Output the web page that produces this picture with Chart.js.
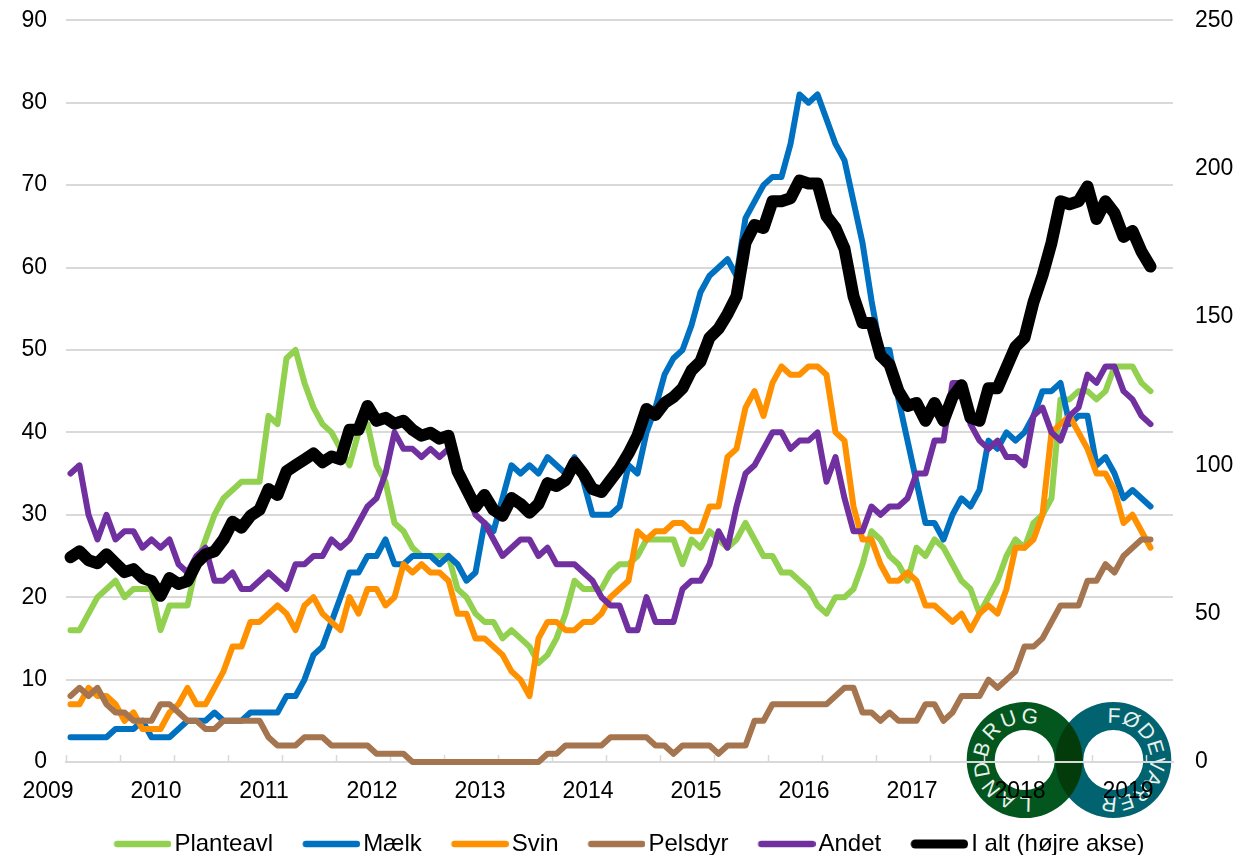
<!DOCTYPE html>
<html>
<head>
<meta charset="utf-8">
<style>
html,body{margin:0;padding:0;background:#fff;overflow:hidden}
#wrap{position:relative;width:1249px;height:855px}
#logo{position:absolute;left:0;top:0;z-index:0}
#c{position:absolute;left:0;top:0;z-index:1}
</style>
<script src="https://cdn.jsdelivr.net/npm/chart.js@4"></script>
</head>
<body>
<div id="wrap">
<svg id="logo" width="1249" height="855" xmlns="http://www.w3.org/2000/svg">
  <defs>
    <path id="ringL" d="M966.7,760a58,58 0 1,0 116,0a58,58 0 1,0 -116,0ZM994.7,760a30,30 0 1,0 60,0a30,30 0 1,0 -60,0Z"/>
    <path id="ringR" d="M1055.3,760a58,58 0 1,0 116,0a58,58 0 1,0 -116,0ZM1083.3,760a30,30 0 1,0 60,0a30,30 0 1,0 -60,0Z"/>
    <clipPath id="clipR"><use href="#ringR" clip-rule="evenodd"/></clipPath>
    <path id="arc" d="M0,-37A37,37 0 1,1 0,37A37,37 0 1,1 0,-37" fill="none"/>
  </defs>
  <use href="#ringL" fill="#04561F" fill-rule="evenodd"/>
  <use href="#ringR" fill="#00636F" fill-rule="evenodd"/>
  <use href="#ringL" fill="#033C0A" fill-rule="evenodd" clip-path="url(#clipR)"/>
  <g font-family="Liberation Sans, Arial, sans-serif" font-size="21" fill="#E8F2EC">
    <g transform="translate(1024.7,760) rotate(170)"><text letter-spacing="2.6"><textPath href="#arc">LANDBRUG</textPath></text></g>
    <g transform="translate(1113.3,760) rotate(-9)"><text letter-spacing="0.5"><textPath href="#arc">FØDEVARER</textPath></text></g>
  </g>
</svg>
<canvas id="c" width="1249" height="855"></canvas>
</div>
<script>
const yearLabels = ['2009','2010','2011','2012','2013','2014','2015','2016','2017','2018','2019'];
const seriesNames = ['Planteavl','Mælk','Svin','Pelsdyr','Andet','I alt (højre akse)'];
const planteavl = [16,16,18,20,21,22,20,21,21,21,16,19,19,19,24,27,30,32,33,34,34,34,42,41,49,50,46,43,41,40,38,36,40,41,36,34,29,28,26,25,25,25,25,21,20,18,17,17,15,16,15,14,12,13,15,18,22,21,21,21,23,24,24,25,27,27,27,27,24,27,26,28,27,26,27,29,27,25,25,23,23,22,21,19,18,20,20,21,24,28,27,25,24,22,26,25,27,26,24,22,21,18,20,22,25,27,26,29,30,32,44,44,45,45,44,45,48,48,48,46,45];
const maelk = [3,3,3,3,3,4,4,4,5,3,3,3,4,5,5,5,6,5,5,5,6,6,6,6,8,8,10,13,14,17,20,23,23,25,25,27,24,24,25,25,25,24,25,24,22,23,29,28,32,36,35,36,35,37,36,35,37,34,30,30,30,31,36,35,40,43,47,49,50,53,57,59,60,61,59,66,68,70,71,71,75,81,80,81,78,75,73,68,63,56,50,50,44,39,34,29,29,27,30,32,31,33,39,38,40,39,40,42,45,45,46,41,42,42,36,37,35,32,33,32,31];
const svin = [7,7,9,8,8,7,5,6,4,4,4,6,7,9,7,7,9,11,14,14,17,17,18,19,18,16,19,20,18,17,16,20,18,21,21,19,20,24,23,24,23,23,22,18,18,15,15,14,13,11,10,8,15,17,17,16,16,17,17,18,20,21,22,28,27,28,28,29,29,28,28,31,31,37,38,43,45,42,46,48,47,47,48,48,47,40,39,31,27,27,24,22,22,23,22,19,19,18,17,18,16,18,19,18,21,26,26,27,30,40,41,42,40,38,35,35,33,29,30,28,26];
const pelsdyr = [8,9,8,9,7,6,6,5,5,5,7,7,6,5,5,4,4,5,5,5,5,5,3,2,2,2,3,3,3,2,2,2,2,2,1,1,1,1,0,0,0,0,0,0,0,0,0,0,0,0,0,0,0,1,1,2,2,2,2,2,3,3,3,3,3,2,2,1,2,2,2,2,1,2,2,2,5,5,7,7,7,7,7,7,7,8,9,9,6,6,5,6,5,5,5,7,7,5,6,8,8,8,10,9,10,11,14,14,15,17,19,19,19,22,22,24,23,25,26,27,27];
const andet = [35,36,30,27,30,27,28,28,26,27,26,27,24,23,25,26,22,22,23,21,21,22,23,22,21,24,24,25,25,27,26,27,29,31,32,35,40,38,38,37,38,37,38,36,33,30,29,27,25,26,27,27,25,26,24,24,24,23,22,20,19,19,16,16,20,17,17,17,21,22,22,24,28,26,31,35,36,38,40,40,38,39,39,40,34,37,32,28,28,31,30,31,31,32,35,35,39,39,46,46,41,39,38,39,37,37,36,42,43,40,39,42,43,47,46,48,48,45,44,42,41];
const iAlt = [69,71,68,67,70,67,64,65,62,61,56,62,60,61,67,70,71,75,81,79,83,85,92,90,98,100,102,104,101,103,102,112,112,120,115,116,114,115,112,110,111,109,110,98,92,86,90,85,83,89,87,84,87,94,93,95,101,97,92,91,95,99,104,110,119,117,121,123,126,132,135,143,146,151,157,175,181,180,189,189,190,196,195,195,184,180,173,157,148,148,137,134,125,120,121,115,121,115,123,127,116,115,126,126,133,140,143,155,164,175,189,188,189,194,183,189,185,177,179,172,167];
const leftTicks = [0,10,20,30,40,50,60,70,80,90];
const rightTicks = [0,50,100,150,200,250];
const seriesColors = ['#92D050','#0070C0','#FF9000','#A5754F','#7030A0','#000000'];

const FONT = 'Liberation Sans';
const FS = 23;
const LFS = 24;
const categories = Array.from({length:123},(_,i)=> i%12===0 ? (yearLabels[i/12]||'') : '');
const allSeries = [planteavl,maelk,svin,pelsdyr,andet,iAlt];

function swatch(color, h){
  const c=document.createElement('canvas');c.width=96;c.height=12;
  const g=c.getContext('2d');g.strokeStyle=color;g.lineWidth=h;g.lineCap='round';
  g.beginPath();g.moveTo(38.5+h/2,6);g.lineTo(96-h/2,6);g.stroke();
  return c;
}
const swatches = seriesColors.map((c,i)=>swatch(c,i===5?9:6.5));
const noPad = s => {s.paddingTop=0;s.paddingBottom=0;};

new Chart(document.getElementById('c'),{
  type:'line',
  data:{labels:categories,datasets:allSeries.map((d,i)=>({
    label:seriesNames[i],data:d,borderColor:seriesColors[i],backgroundColor:seriesColors[i],
    borderWidth:i===5?12:6,pointRadius:0,tension:0,fill:false,
    borderJoinStyle:'round',borderCapStyle:'round',
    yAxisID:i===5?'y1':'y',order:6-i,clip:false
  }))},
  options:{
    responsive:false,animation:false,devicePixelRatio:1,
    layout:{padding:{left:-20,right:0,top:20.3,bottom:-11}},
    plugins:{
      title:{display:false},tooltip:{enabled:false},
      legend:{position:'bottom',labels:{
        color:'#000',font:{family:FONT,size:LFS},usePointStyle:true,pointStyleWidth:78,padding:0,
        sort:(a,b)=>a.datasetIndex-b.datasetIndex,
        generateLabels(chart){
          const items=Chart.defaults.plugins.legend.labels.generateLabels(chart);
          items.forEach(it=>{it.pointStyle=swatches[it.datasetIndex];});
          return items;
        }
      }}
    },
    scales:{
      x:{type:'category',offset:true,
        afterFit(s){s.height=70;s.paddingLeft=0;s.paddingRight=0;},
        grid:{display:true,offset:true,drawOnChartArea:false,drawTicks:true,tickLength:-7,tickWidth:1.5,
          tickColor:ctx=>ctx.index%6===0?'#D9D9D9':'rgba(0,0,0,0)'},
        border:{display:true,color:'#D9D9D9',width:2},
        ticks:{autoSkip:false,maxRotation:0,minRotation:0,color:'#000',font:{family:FONT,size:FS},padding:23,labelOffset:-22.5}
      },
      y:{position:'left',min:0,max:90,afterBuildTicks(s){s.ticks=leftTicks.map(v=>({value:v}));},
        afterFit(s){s.width=86;noPad(s);},
        grid:{color:'#D9D9D9',lineWidth:2,drawTicks:false},border:{display:false},
        ticks:{color:'#000',font:{family:FONT,size:FS},padding:19}
      },
      y1:{position:'right',min:0,max:250,afterBuildTicks(s){s.ticks=rightTicks.map(v=>({value:v}));},
        afterFit(s){s.width=76;noPad(s);},
        grid:{display:false,drawTicks:false},border:{display:false},
        ticks:{color:'#000',font:{family:FONT,size:FS},padding:22}
      }
    }
  }
});
</script>
</body>
</html>
